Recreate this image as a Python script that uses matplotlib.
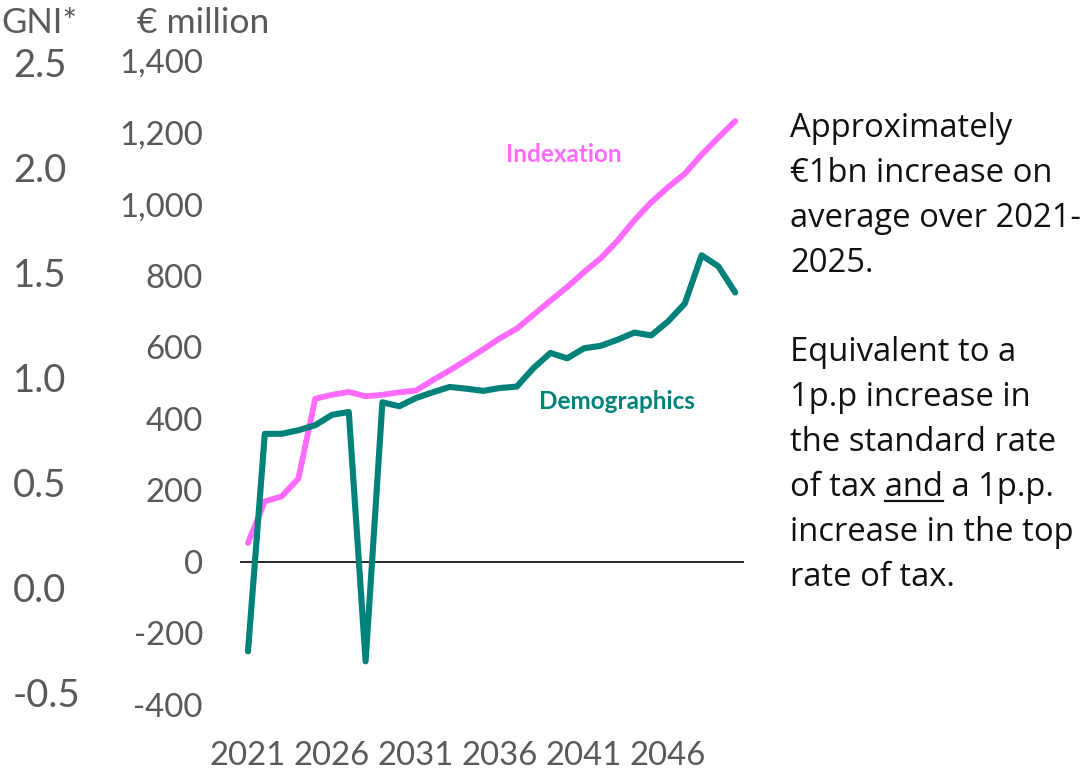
import matplotlib
matplotlib.use("Agg")
import matplotlib.pyplot as plt
from matplotlib.lines import Line2D

# ---- data -------------------------------------------------------------
years = list(range(2021, 2051))
indexation = [53, 169, 183, 233, 456, 467, 475, 463, 467, 474,
              479, 508, 535, 564, 594, 625, 652, 691, 730, 768,
              810, 849, 898, 955, 1005, 1047, 1085, 1138, 1186, 1232]
demographics = [-250, 358, 358, 368, 382, 411, 419, -278, 446, 435,
                458, 474, 489, 484, 478, 486, 490, 542, 584, 569,
                597, 604, 621, 641, 633, 672, 722, 857, 826, 753]
eur_ticks = [-400, -200, 0, 200, 400, 600, 800, 1000, 1200, 1400]
gni_ticks = [-0.5, 0.0, 0.5, 1.0, 1.5, 2.0, 2.5]
year_ticks = [2021, 2026, 2031, 2036, 2041, 2046]

note_lines_1 = ["Approximately", "\u20ac1bn increase on", "average over 2021-", "2025."]
note_lines_2 = ["Equivalent to a", "1p.p increase in", "the standard rate",
                "of tax and a 1p.p.", "increase in the top", "rate of tax."]

# ---- style ------------------------------------------------------------
PINK = "#ff6bff"
TEAL = "#00827b"
GREY = "#595959"
INK = "#111111"
FONT = "Lato"
NOTE_FONT = ["Open Sans", "DejaVu Sans"]
plt.rcParams["font.family"] = [FONT, "DejaVu Sans"]

W, H = 1088, 769
fig = plt.figure(figsize=(W / 100, H / 100), dpi=100)


def fx(x):
    return x / W


def fy(y):
    return 1 - y / H


ax_l, ax_r, ax_t, ax_b = 239.6, 743.6, 61, 705
ax = fig.add_axes([fx(ax_l), fy(ax_b), (ax_r - ax_l) / W, (ax_b - ax_t) / H])

ax.plot(years, indexation, color=PINK, lw=4.2, solid_capstyle="round", zorder=3)
ax.plot(years, demographics, color=TEAL, lw=4.4, solid_capstyle="round", zorder=4)
ax.axhline(0, color="black", lw=1.2, zorder=2)

ax.set_xlim(2020.5, 2050.5)
ax.set_ylim(-400, 1400)
ax.set_yticks(eur_ticks)
ax.set_yticklabels([f"{v:,}" for v in eur_ticks])
ax.set_xticks(year_ticks)
ax.set_xticklabels([str(y) for y in year_ticks])
ax.tick_params(axis="y", length=0, pad=26.4, labelsize=23.7, labelcolor=GREY)
ax.tick_params(axis="x", length=0, pad=26, labelsize=23.7, labelcolor=GREY)
for s in ax.spines.values():
    s.set_visible(False)

# secondary % GNI* scale on the far left
gax = fig.add_axes([0, fy(ax_b), 13 / W, (ax_b - ax_t) / H])
gax.set_ylim(-0.559, 2.505)
gax.set_xticks([])
gax.yaxis.tick_right()
gax.set_yticks(gni_ticks)
gax.set_yticklabels([f"{v:.1f}" for v in gni_ticks])
gax.tick_params(axis="y", length=0, pad=0, labelsize=27.5, labelcolor=GREY)
gax.patch.set_visible(False)
for s in gax.spines.values():
    s.set_visible(False)

# axis headers
fig.text(fx(1), fy(33), "GNI*", ha="left", va="baseline", fontsize=25, color=GREY)
fig.text(fx(137), fy(33), "\u20ac million", ha="left", va="baseline", fontsize=25.5, color=GREY)

# series labels
fig.text(fx(564), fy(161.5), "Indexation", ha="center", va="baseline",
         fontsize=17.5, fontweight="bold", color=PINK)
fig.text(fx(616.5), fy(409), "Demographics", ha="center", va="baseline",
         fontsize=17.5, fontweight="bold", color=TEAL)

# side note
NOTE_X = 790
NOTE_FS = 23.6
step = 44.9
base = 137
renderer = fig.canvas.get_renderer()
lines = note_lines_1 + [""] + note_lines_2
for i, line in enumerate(lines):
    if not line:
        continue
    yb = base + i * step
    fig.text(fx(NOTE_X), fy(yb), line, ha="left", va="baseline",
             fontsize=NOTE_FS, color=INK, family=NOTE_FONT)
    if line.startswith("of tax and"):
        pre = fig.text(0, 0, "of tax ", fontsize=NOTE_FS, family=NOTE_FONT)
        word = fig.text(0, 0, "of tax and", fontsize=NOTE_FS, family=NOTE_FONT)
        x0 = NOTE_X + pre.get_window_extent(renderer).width
        x1 = NOTE_X + word.get_window_extent(renderer).width
        pre.remove()
        word.remove()
        fig.add_artist(Line2D([fx(x0), fx(x1)], [fy(yb + 5), fy(yb + 5)],
                              transform=fig.transFigure, color=INK, lw=1.6))

fig.savefig("out.png", dpi=100)
